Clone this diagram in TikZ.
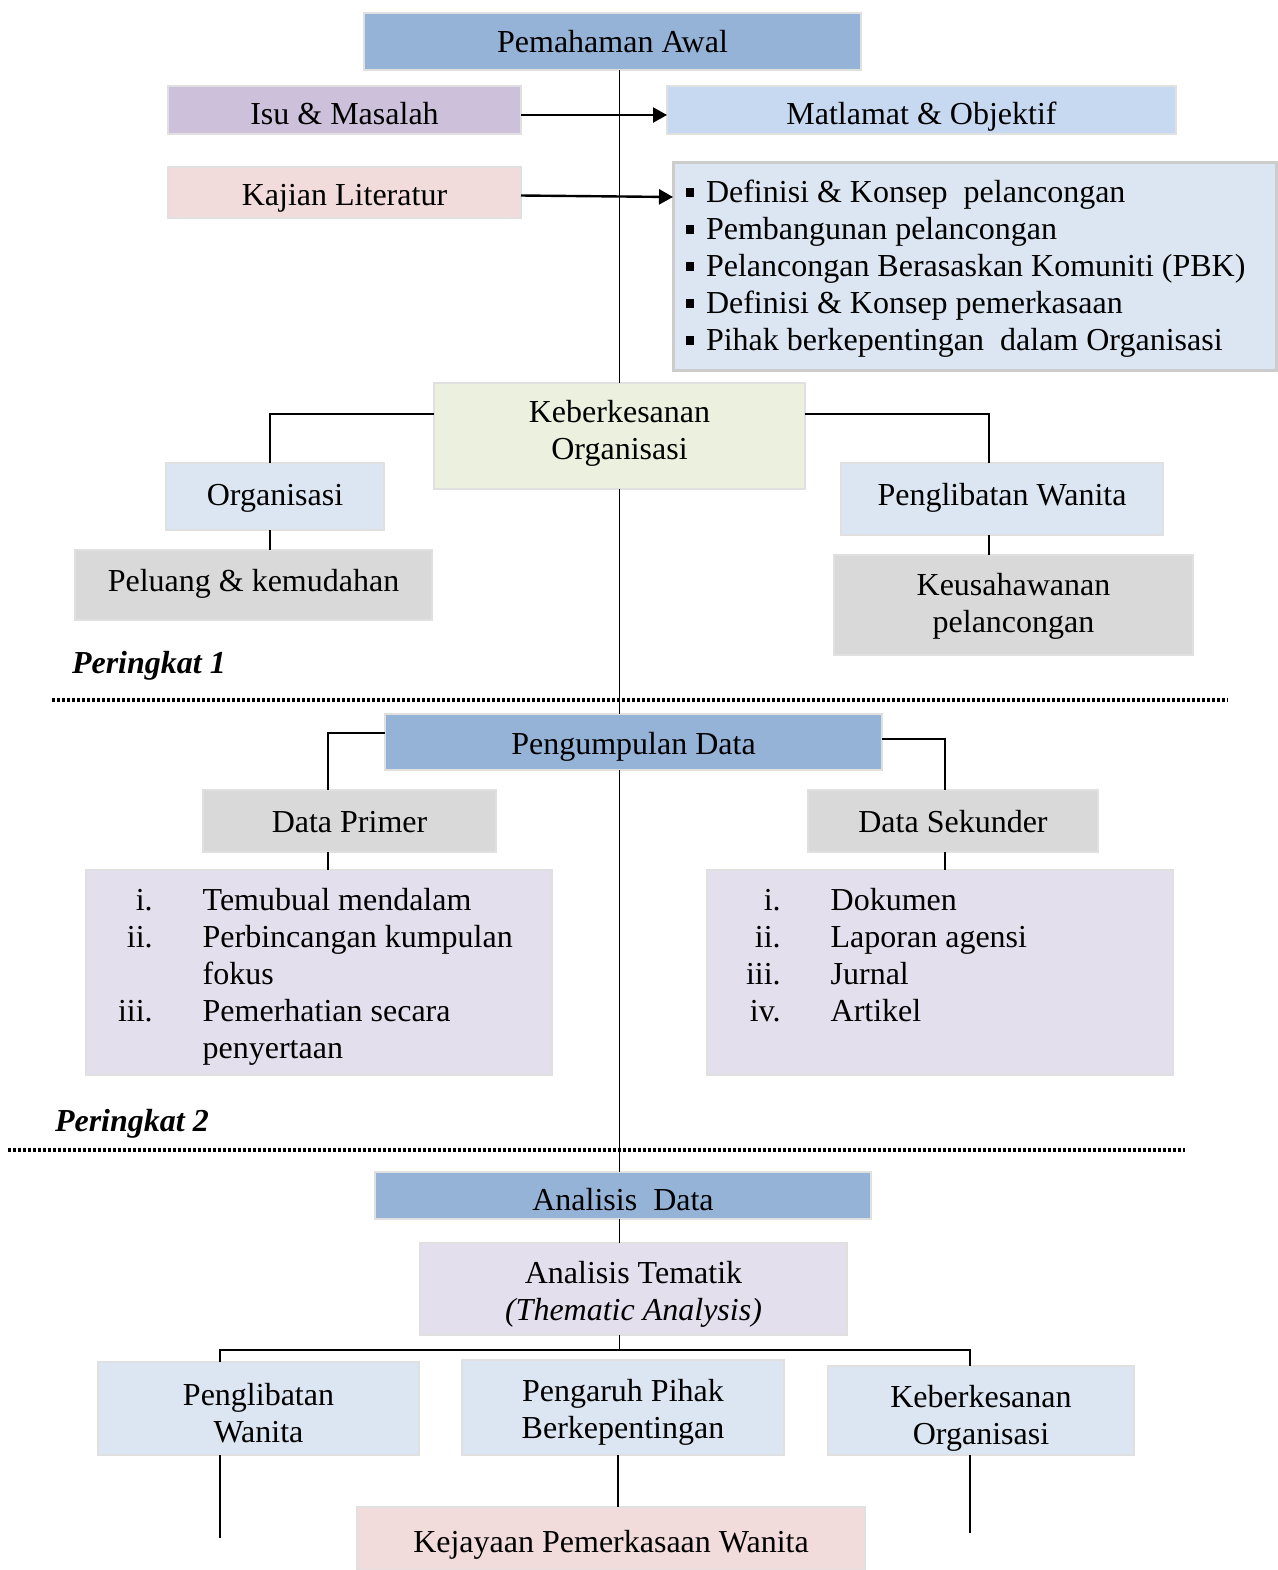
\documentclass[tikz,border=0pt]{standalone}
\usepackage{fontspec}
\setmainfont{Liberation Serif}
\usepackage{tikz}
\usetikzlibrary{arrows.meta}

\definecolor{hdrblue}{HTML}{95B3D7}
\definecolor{isupurple}{HTML}{CCC0DA}
\definecolor{matblue}{HTML}{C6D9F1}
\definecolor{litpink}{HTML}{F2DCDB}
\definecolor{paleblue}{HTML}{DCE6F2}
\definecolor{palegreen}{HTML}{EBF1DE}
\definecolor{palegrey}{HTML}{D9D9D9}
\definecolor{lavender}{HTML}{E4DFEC}

\newcommand{\bul}{\rule[2.5pt]{4pt}{4.5pt}\hspace{6pt}}
\newcommand{\twoline}[2]{\begin{tabular}[t]{@{}c@{}}#1\\#2\end{tabular}}

\begin{document}
\begin{tikzpicture}[x=0.5pt, y=-0.5pt,
    every node/.style={font=\fontsize{16}{18.5}\selectfont, inner sep=0pt, outer sep=0pt},
    box/.style={draw=black!12, line width=0.8pt, align=center},
    wh/.style 2 args={minimum width=#1*0.5pt, minimum height=#2*0.5pt},
    bl/.style 2 args={text height=#1, text depth=#2},
    link/.style={line width=0.8pt},
    arr/.style={line width=1.2pt, -{Triangle[length=7pt,width=7.5pt]}},
    dots/.style={line width=2pt, dash pattern=on 1.4pt off 1.1pt},
    lvl/.style={font=\fontsize{16}{18.5}\selectfont\bfseries\itshape, anchor=base west}]
    \useasboundingbox (0,0) rectangle (1278,1570);

    % peringkat 1
    \node[box, fill=hdrblue, wh={497}{57}, bl={13.5pt}{3pt}] (awal) at (612.5,41.5) {Pemahaman Awal};
    \node[box, fill=isupurple, wh={353}{48}, bl={17pt}{3pt}] (isu) at (344.5,110) {Isu \& Masalah};
    \node[box, fill=matblue, wh={509}{48}, bl={17pt}{3pt}] (mat) at (921.5,110) {Matlamat \& Objektif};
    \node[box, fill=litpink, wh={353}{51}, bl={15.5pt}{3pt}] (kajian) at (344.5,192.5) {Kajian Literatur};
    \node[box, fill=paleblue, draw=black!20, line width=1.5pt, wh={603}{208}] (lit) at (974.5,266) {};
    \node[anchor=base west] (littxt) at (686,202) {\begin{tabular}[t]{@{}l@{}}
      \bul Definisi \& Konsep\ \ pelancongan\\
      \bul Pembangunan pelancongan\\
      \bul Pelancongan Berasaskan Komuniti (PBK)\\
      \bul Definisi \& Konsep pemerkasaan\\
      \bul Pihak berkepentingan\ \ dalam Organisasi
    \end{tabular}};

    \node[box, fill=palegreen, wh={371}{106}, bl={2pt}{16pt}] (keber) at (619.5,436) {\twoline{Keberkesanan}{Organisasi}};
    \node[box, fill=paleblue, wh={218}{67}, bl={12pt}{3pt}] (org) at (275,496.5) {Organisasi};
    \node[box, fill=palegrey, wh={357}{70}, bl={9.7pt}{3pt}] (peluang) at (253.5,585) {Peluang \& kemudahan};
    \node[box, fill=paleblue, wh={322}{72}, bl={9pt}{3pt}] (pw) at (1002,499) {Penglibatan Wanita};
    \node[box, fill=palegrey, wh={359}{100}, bl={2pt}{12pt}] (usaha) at (1013.5,605) {\twoline{Keusahawanan}{pelancongan}};

    \node[lvl] (p1) at (72,673) {Peringkat 1};
    \draw[dots] (52,700) -- (1228,700);

    % peringkat 2
    \node[box, fill=hdrblue, wh={497}{56}, bl={15.3pt}{3pt}] (kumpul) at (633.5,742) {Pengumpulan Data};
    \node[box, fill=palegrey, wh={293}{62}, bl={14pt}{3pt}] (primer) at (349.5,821) {Data Primer};
    \node[box, fill=palegrey, wh={290}{62}, bl={14pt}{3pt}] (sekunder) at (953,821) {Data Sekunder};
    \node[box, fill=lavender, wh={466}{205}] (primlist) at (319,972.5) {};
    \node[box, fill=lavender, wh={466}{205}] (seklist) at (940,972.5) {};
    \node[anchor=base west] (primtxt) at (118,910) {\begin{tabular}[t]{@{}r@{\hspace{25pt}}l@{}}
      i. & Temubual mendalam\\
      ii. & Perbincangan kumpulan\\
          & fokus\\
      iii. & Pemerhatian secara\\
           & penyertaan
    \end{tabular}};
    \node[anchor=base west] (sektxt) at (746,910) {\begin{tabular}[t]{@{}r@{\hspace{25pt}}l@{}}
      i. & Dokumen\\
      ii. & Laporan agensi\\
      iii. & Jurnal\\
      iv. & Artikel
    \end{tabular}};

    \node[lvl] (p2) at (55,1131) {Peringkat 2};
    \draw[dots] (8,1150) -- (1185,1150);

    % analisis
    \node[box, fill=hdrblue, wh={496}{47}, bl={17.5pt}{3pt}] (analisis) at (623,1195.5) {Analisis\ \ Data};
    \node[box, fill=lavender, wh={427}{92}, bl={2pt}{7.7pt}] (tematik) at (633.5,1289) {\twoline{Analisis Tematik}{\textit{(Thematic Analysis)}}};
    \node[box, fill=paleblue, wh={321}{93}, bl={2pt}{5.5pt}] (pw2) at (258.5,1408.5) {\twoline{Penglibatan}{Wanita}};
    \node[box, fill=paleblue, wh={322}{95}, bl={2pt}{7.8pt}] (pp) at (623,1407.5) {\twoline{Pengaruh Pihak}{Berkepentingan}};
    \node[box, fill=paleblue, wh={306}{89}, bl={2pt}{5.2pt}] (ko2) at (981,1410.5) {\twoline{Keberkesanan}{Organisasi}};
    \node[box, fill=litpink, wh={508}{63}, bl={16.5pt}{3pt}] (jaya) at (611,1538.5) {Kejayaan Pemerkasaan Wanita};

    \coordinate (barL) at (220,1350);
    \coordinate (barR) at (970,1350);
    \coordinate (endL) at (220,1538);
    \coordinate (endR) at (970,1533);

    % garis
    \draw[link] (keber.north |- awal.south) -- (keber.north);
    \draw[link] (keber.south) -- (keber.south |- kumpul.north);
    \draw[link] (keber.south |- kumpul.south) -- (keber.south |- analisis.north);
    \draw[link] (keber.south |- analisis.south) -- (keber.south |- tematik.north);
    \draw[link] (keber.south |- tematik.south) -- (keber.south |- barL);
    \draw[arr] ([yshift=-2.5pt]isu.east) -- ([yshift=-2.5pt]mat.west);
    \draw[arr] ([yshift=-1.5pt]kajian.east) -- ([yshift=-17.5pt]lit.north west);
    \draw[link] ([yshift=11pt]keber.west) -| ([xshift=-2.5pt]org.north);
    \draw[link] ([xshift=-2.5pt]org.south) -- ([xshift=-2.5pt]org.south |- peluang.north);
    \draw[link] ([yshift=11pt]keber.east) -| ([xshift=-6.5pt]pw.north);
    \draw[link] ([xshift=-6.5pt]pw.south) -- ([xshift=-6.5pt]pw.south |- usaha.north);
    \draw[link] ([yshift=4.5pt]kumpul.west) -| ([xshift=-10.75pt]primer.north);
    \draw[link] ([xshift=-10.75pt]primer.south) -- ([xshift=-10.75pt]primer.south |- primlist.north);
    \draw[link] ([yshift=1.5pt]kumpul.east) -| ([xshift=-4pt]sekunder.north);
    \draw[link] ([xshift=-4pt]sekunder.south) -- ([xshift=-4pt]sekunder.south |- seklist.north);
    \draw[link, line width=1.2pt] (barL |- pw2.north) -- (barL) -- (barR) -- (barR |- ko2.north);
    \draw[link] (endL |- pw2.south) -- (endL);
    \draw[link] ([xshift=-2.5pt]pp.south) -- ([xshift=-2.5pt]pp.south |- jaya.north);
    \draw[link] (endR |- ko2.south) -- (endR);
\end{tikzpicture}
\end{document}
